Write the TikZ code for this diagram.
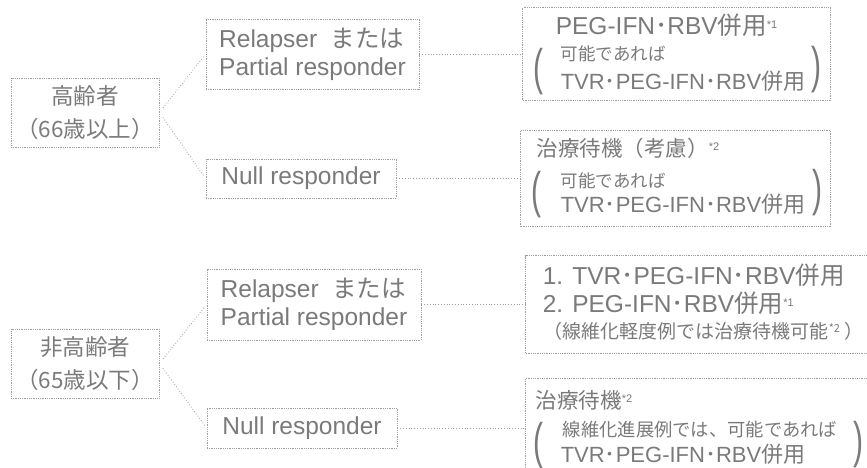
\documentclass[tikz,border=0pt]{standalone}
\usepackage{fontspec}
\setmainfont{Liberation Sans}
\newfontfamily\jp{Noto Sans CJK JP}
\usetikzlibrary{positioning}
\definecolor{txtgray}{gray}{0.48}
\definecolor{boxgray}{gray}{0.62}
\newcommand{\J}[1]{{\jp #1}}
\newcommand{\mdot}{{\jp ･}}
\newcommand{\mk}[1]{\raisebox{6pt}{\fontsize{11}{11}\selectfont *#1}}
\newcommand{\lgfont}{\fontsize{22}{22}\selectfont}
\newcommand{\hdfont}{\fontsize{24.5}{24.5}\selectfont}
\newcommand{\smfont}{\jp\fontsize{17.5}{17.5}\selectfont}
\newcommand{\parL}{\scalebox{0.6}[1]{\fontsize{50}{50}\selectfont (}}
\newcommand{\parR}{\scalebox{0.6}[1]{\fontsize{50}{50}\selectfont )}}
\begin{document}
\begin{tikzpicture}[x=1pt, y=-1pt, thick, text=txtgray,
    age/.style={rectangle, draw=boxgray, densely dotted, align=center, minimum width=148pt, minimum height=69pt, font=\jp\fontsize{22.5}{33}\selectfont},
    resp/.style={rectangle, draw=boxgray, densely dotted, align=left, font=\fontsize{24.5}{28}\selectfont},
    plan/.style={rectangle, draw=boxgray, densely dotted},
    entry/.style={anchor=base west, inner sep=0pt},
    brace/.style={inner sep=0pt},
    link/.style={draw=boxgray, dotted}]
    \useasboundingbox (0,0) rectangle (867,468);
    % age groups
    \node[age] (old) at (85,112.5) {高齢者\\（66歳以上）};
    \node[age] (young) at (85,363.5) {非高齢者\\（65歳以下）};
    % responses
    \node[resp, minimum width=213pt, minimum height=70pt] (rp1) at (312.5,54) {Relapser\ \ \J{または}\\Partial responder};
    \node[resp, minimum width=190pt, minimum height=39pt] (nr1) at (301,178.5) {Null responder};
    \node[resp, minimum width=214pt, minimum height=71pt] (rp2) at (314,304.5) {Relapser\ \ \J{または}\\Partial responder};
    \node[resp, minimum width=190pt, minimum height=40pt] (nr2) at (302,428) {Null responder};
    % treatments
    \node[plan, minimum width=308pt, minimum height=93pt] (t1) [right=103pt of rp1] {};
    \node[plan, minimum width=310pt, minimum height=96pt] (t2) [right=124pt of nr1] {};
    \node[plan, minimum width=350pt, minimum height=98pt] (t3) [right=104pt of rp2] {};
    \node[plan, minimum width=350pt, minimum height=100pt] (t4) [right=128pt of nr2] {};

    \node[entry, font=\hdfont] (t1a) at ([shift={(33,27.5)}]t1.north west) {PEG-IFN\mdot RBV\J{併用}\mk{1}};
    \node[entry, font=\smfont] (t1b) at ([shift={(38,53)}]t1.north west) {可能であれば};
    \node[entry, font=\lgfont] (t1c) at ([shift={(38,82.5)}]t1.north west) {TVR\mdot PEG-IFN\mdot RBV\J{併用}};
    \node[brace] (t1l) at ([shift={(16,64.5)}]t1.north west) {\parL};
    \node[brace] (t1r) at ([shift={(294,62.5)}]t1.north west) {\parR};

    \node[entry, font=\lgfont] (t2a) at ([shift={(16,26.5)}]t2.north west) {\J{\fontsize{21.5}{21.5}\selectfont 治療待機（考慮）}\mk{2}};
    \node[entry, font=\smfont] (t2b) at ([shift={(40,57.5)}]t2.north west) {可能であれば};
    \node[entry, font=\lgfont] (t2c) at ([shift={(40,82.5)}]t2.north west) {TVR\mdot PEG-IFN\mdot RBV\J{併用}};
    \node[brace] (t2l) at ([shift={(16,64.5)}]t2.north west) {\parL};
    \node[brace] (t2r) at ([shift={(297,62.5)}]t2.north west) {\parR};

    \node[entry, font=\hdfont] (t3a) at ([shift={(17,29.5)}]t3.north west) {1. TVR\mdot PEG-IFN\mdot RBV\J{併用}};
    \node[entry, font=\hdfont] (t3b) at ([shift={(17,57.5)}]t3.north west) {2. PEG-IFN\mdot RBV\J{併用}\mk{1}};
    \node[entry, font=\smfont\fontsize{19}{19}\selectfont] (t3c) at ([shift={(18,83.5)}]t3.north west) {（線維化軽度例では治療待機可能\mk{2} ）};

    \node[entry, font=\lgfont] (t4a) at ([shift={(10,31)}]t4.north west) {\J{\fontsize{21.5}{21.5}\selectfont 治療待機}\mk{2}};
    \node[entry, font=\smfont\fontsize{18.3}{18.3}\selectfont] (t4b) at ([shift={(37,59)}]t4.north west) {線維化進展例では、可能であれば};
    \node[entry, font=\lgfont] (t4c) at ([shift={(35,85)}]t4.north west) {TVR\mdot PEG-IFN\mdot RBV\J{併用}};
    \node[brace] (t4l) at ([shift={(13,68)}]t4.north west) {\parL};
    \node[brace] (t4r) at ([shift={(333,67)}]t4.north west) {\parR};

\foreach \s/\t in {old/rp1, old/nr1, young/rp2, young/nr2}{
    \draw[link, shorten <=6pt, shorten >=3pt] (\s.east) -- (\t.west);}
\foreach \s/\t in {rp1/t1, nr1/t2, rp2/t3, nr2/t4}{
    \draw[link] (\s) -- (\t);}
\end{tikzpicture}
\end{document}
